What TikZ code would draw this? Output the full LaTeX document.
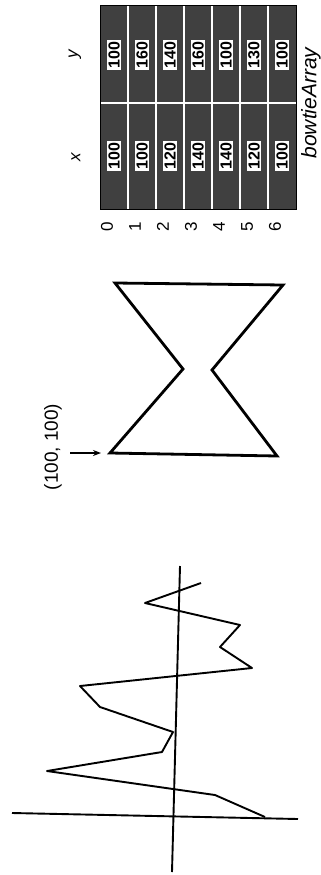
\documentclass[tikz,border=0pt]{standalone}
\usepackage{fontspec}
\setmainfont{Liberation Sans}
\usetikzlibrary{arrows.meta}

\tikzset{
  lbl/.style={rotate=90, inner sep=1pt},
  cellnum/.style={rotate=90, fill=white, inner sep=1.5pt, font=\fontsize{16}{18}\selectfont\bfseries},
}

\begin{document}
\begin{tikzpicture}[x=1pt, y=-1pt, font=\fontsize{17}{20}\selectfont]
\useasboundingbox (0,0) rectangle (321,875);

% Axes
\draw[line width=1.9pt] (12,813) -- (298,819);
\draw[line width=1.9pt] (180,566) -- (172,872);

% data curve
\draw[line width=1.9pt, line join=round]
  (265,817) -- (215,795) -- (47,771) -- (162,752) -- (173,732) -- (100,707)
  -- (80,686) -- (252,668) -- (220,647) -- (240,625) -- (145,603) -- (201,583);

% Bowtie corners
\coordinate (b0) at (110,453);
\coordinate (b1) at (277,456);
\coordinate (b2) at (212,370);
\coordinate (b3) at (283,285);
\coordinate (b4) at (115,283);
\coordinate (b5) at (183,369);
\draw[line width=2.8pt] (b0) -- (b1) -- (b2) -- (b3) -- (b4) -- (b5) -- cycle;

% Start point label
\node[lbl, font=\fontsize{19}{22}\selectfont] (start) at (53,447) {(100, 100)};
\draw[-{Stealth[length=8pt, width=6pt]}, line width=1.3pt, shorten <=7pt, shorten >=9pt]
  (start.south |- b0) -- (b0);

% Array of points
\fill[black!75] (100,6) rectangle (296,209);
\foreach \i in {1,...,6}
  \draw[white, line width=1.5pt] ({100+28*\i},6) -- ({100+28*\i},209);
\draw[white, line width=1.5pt] (100,103) -- (296,103);
\draw[line width=1pt] (100,6) rectangle (296,209);

\foreach \px/\py [count=\i from 0] in
  {100/100, 100/160, 120/140, 140/160, 140/100, 120/130, 100/100} {
  \node[cellnum] (x\i) at ({114+28*\i},156) {\px};
  \node[cellnum] (y\i) at ({114+28*\i},55) {\py};
  \node[lbl] (row\i) at ({107+28*\i},227) {\i};
}

% Column heads and array name
\node[lbl, font=\fontsize{17}{20}\selectfont\itshape] (headx) at (76,157) {x};
\node[lbl, font=\fontsize{17}{20}\selectfont\itshape] (heady) at (75,54) {y};
\node[lbl, font=\fontsize{21}{24}\selectfont\itshape] (arrname) at (311,103) {bowtieArray};

\end{tikzpicture}
\end{document}
